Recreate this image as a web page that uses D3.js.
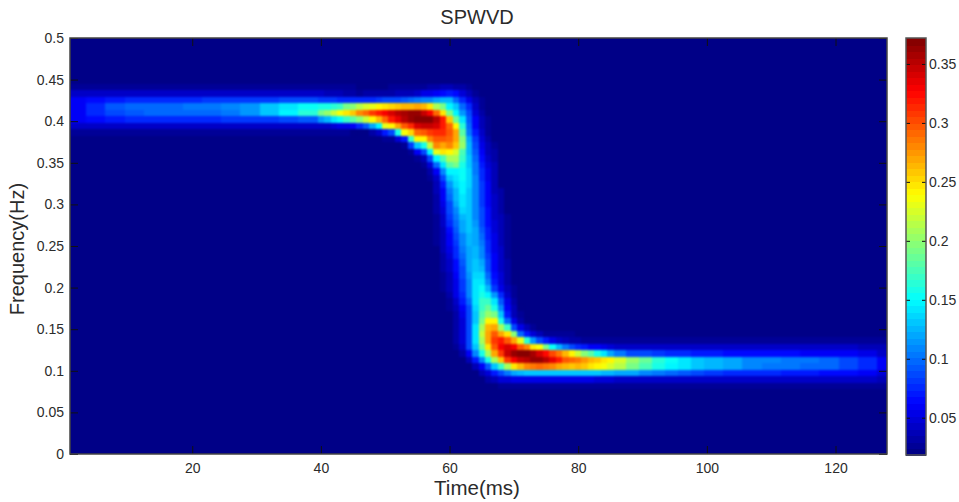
<!DOCTYPE html>
<html>
<head>
<meta charset="utf-8">
<title>SPWVD</title>
<script src="https://cdn.jsdelivr.net/npm/d3@7"></script>
<style>
  html, body { margin: 0; background: #fff; }
  text { font-family: "Liberation Sans", Arial, sans-serif; fill: #2b2b2b; }
</style>
</head>
<body>
<div id="chart"></div>
<script>
// tick labels
const timeTicks = [20, 40, 60, 80, 100, 120];
const freqTicks = [0, 0.05, 0.1, 0.15, 0.2, 0.25, 0.3, 0.35, 0.4, 0.45, 0.5];
const barTicks = [0.05, 0.1, 0.15, 0.2, 0.25, 0.3, 0.35];

// spectrogram, 64 frequency bins over 0-0.5 Hz
const binCount = 64;
const floorValue = 0.0184;
const topValue = 0.372;
// first time sample of each stored column, it lasts until the next one
const colTime = [1, 4, 7, 10, 13, 16, 19, 22, 25, 28, 31, 34, 37, 40, 41, 42, 43, 44, 45, 46, 47, 48, 49, 50, 51, 52, 53, 54, 55, 56, 57, 58, 59, 60, 61, 62, 63, 64, 65, 66, 67, 68, 69, 70, 71, 72, 73, 74, 75, 76, 77, 78, 79, 80, 81, 82, 83, 84, 85, 86, 88, 90, 92, 94, 96, 98, 100, 103, 106, 109, 112, 115, 118, 121, 124, 127];
const colEnd = 129;
// lowest frequency bin stored for each column
const colBin = [49, 49, 49, 49, 49, 49, 49, 49, 49, 49, 49, 49, 49, 49, 49, 49, 49, 49, 49, 50, 50, 49, 49, 48, 48, 48, 47, 46, 45, 44, 42, 32, 25, 22, 16, 15, 14, 13, 12, 11, 11, 10, 10, 10, 10, 10, 10, 10, 10, 10, 10, 10, 10, 10, 10, 10, 10, 10, 10, 10, 10, 10, 10, 10, 10, 10, 10, 10, 10, 10, 10, 10, 10, 10, 10, 10];
// values x 1000, from colBin upward
const colVals = [
  [28,44,58,62,62,58,44,28],
  [26,44,64,78,78,64,44,26],
  [26,44,70,90,92,72,46,26],
  [26,44,74,94,96,76,46,26],
  [26,46,76,96,98,78,46,26],
  [26,46,76,96,100,78,46,26],
  [26,46,76,98,102,78,46,26],
  [26,46,78,100,104,80,46,26],
  [26,46,80,106,108,80,46,26],
  [26,46,82,116,116,82,46,26],
  [26,46,84,134,130,84,46,26],
  [26,46,88,150,144,86,45,26],
  [26,46,94,167,152,86,44,26],
  [25,46,116,190,157,84,42,25],
  [25,46,128,205,162,82,40,25],
  [24,48,140,220,167,80,38,25],
  [24,52,152,235,172,78,36,24],
  [24,56,170,250,190,76,32,24],
  [23,62,182,260,200,76,30,24],
  [78,200,280,215,75,28,23],
  [92,222,290,225,76,30,23],
  [30,120,240,310,232,78,32,23],
  [45,150,262,322,240,80,32,23],
  [25,70,230,290,332,245,85,32,23],
  [28,85,240,318,342,252,88,34,24],
  [50,160,270,338,350,258,90,36,25],
  [25,70,235,295,352,357,262,92,38,25],
  [25,80,170,255,315,362,362,265,98,40,25],
  [25,60,130,240,290,340,370,365,270,104,44,26],
  [24,40,85,160,240,300,345,372,345,262,108,52,28],
  [24,30,50,90,150,220,280,310,345,368,330,245,112,55,30],
  [24,25,26,27,28,30,32,34,36,38,44,60,100,150,230,280,300,315,340,352,290,210,118,62,33],
  [24,26,28,30,32,34,35,36,38,40,43,46,48,52,58,62,72,90,110,140,175,250,270,295,312,318,318,250,190,125,68,35],
  [24,28,32,36,38,40,42,46,50,54,58,62,68,74,80,86,90,98,102,115,130,150,180,210,240,280,290,295,290,260,195,150,125,70,36],
  [24,30,32,32,32,34,40,44,52,54,56,60,64,68,74,78,84,88,94,100,106,112,118,125,128,135,140,150,190,210,225,258,270,268,240,185,150,130,100,65,34],
  [30,45,50,50,50,50,55,60,70,78,80,82,85,90,92,98,102,108,112,118,122,128,135,140,145,148,150,152,155,160,170,175,205,200,180,165,145,115,100,75,50,30],
  [35,60,85,90,90,90,90,90,90,100,110,110,112,115,118,118,120,122,125,128,130,130,132,132,132,132,132,138,138,135,130,130,125,125,120,105,100,95,85,75,55,38,26],
  [40,70,110,130,145,140,140,130,130,135,140,140,140,140,135,132,130,128,126,122,120,118,114,112,110,108,108,108,110,108,105,105,100,95,90,80,70,62,58,50,45,35,28],
  [35,60,110,160,190,210,220,210,190,180,170,170,160,155,145,135,125,118,112,108,102,98,95,90,88,86,84,82,80,80,78,75,72,68,60,55,48,42,38,35,32,28,24],
  [30,50,95,160,210,250,270,270,265,240,205,185,170,150,125,110,98,90,85,80,76,74,72,70,68,66,64,62,60,60,58,56,54,50,44,40,36,32,28,26,24,22],
  [40,70,130,210,270,300,310,300,270,240,190,160,140,115,80,70,64,62,60,58,56,54,52,50,48,46,45,44,42,40,40,38,38,36,34,32,28],
  [24,50,90,170,260,310,330,320,270,210,160,130,110,95,75,56,50,48,46,45,44,42,40,38,37,36,35,34,33,32,30],
  [24,50,105,210,310,345,340,300,250,170,100,70,60,55,45,36,34,32,30,30,28,28,27,26,25,24,24],
  [24,55,120,245,330,365,330,270,200,90,55,38,36,32,28,24,23,22],
  [24,55,125,265,345,370,300,230,100,55,32,24,22],
  [24,55,130,280,355,370,280,165,70,35,22],
  [24,55,130,285,365,360,250,115,48,25],
  [24,55,130,290,365,340,235,90,35],
  [24,55,130,285,355,325,190,70,25],
  [24,55,130,280,335,305,155,55,24],
  [24,55,130,270,320,285,125,44,24],
  [24,55,130,265,300,262,105,36,24],
  [24,55,130,260,290,240,90,32,24],
  [24,55,130,262,285,220,78,30],
  [24,52,130,258,275,200,70,28],
  [24,52,130,250,265,180,62,28],
  [24,50,130,240,260,160,58,27],
  [24,50,128,235,250,140,52,27],
  [24,48,125,225,240,120,50,26],
  [24,46,122,215,228,105,46,26],
  [24,46,118,195,205,90,46,26],
  [24,46,112,175,185,85,46,26],
  [24,46,105,158,165,80,46,26],
  [24,46,98,150,152,76,46,26],
  [24,46,92,140,142,74,46,26],
  [24,46,86,132,134,72,46,26],
  [24,46,82,125,128,70,46,26],
  [24,46,78,118,120,68,46,26],
  [24,46,76,110,112,66,45,26],
  [24,46,74,106,108,66,44,26],
  [24,46,72,104,104,64,44,26],
  [24,46,70,100,102,62,44,26],
  [24,44,68,98,98,60,44,26],
  [24,44,66,90,90,58,42,26],
  [24,42,60,74,74,54,40,25],
  [24,38,50,60,60,46,36,24]
];

const W = 959, H = 502;
const plot = { left: 70, right: 887, top: 38, bottom: 454 };
const bar = { left: 906, right: 926, top: 38, bottom: 455 };

const svg = d3.select("#chart").append("svg")
  .attr("width", W).attr("height", H)
  .style("display", "block");

const x = d3.scaleLinear().domain([1, 128]).range([plot.left, plot.right]);
const y = d3.scaleLinear().domain([0, 0.5]).range([plot.bottom, plot.top]);

// matlab jet, 64 steps
function jet(i, n) {
  const v = (i + 0.5) / n * 4;
  const ch = (c) => Math.round(255 * Math.max(0, Math.min(1, 1.5 - Math.abs(v - c))));
  return d3.rgb(ch(3), ch(2), ch(1)).formatHex();
}
const jetColors = d3.range(64).map((i) => jet(i, 64));
const color = d3.scaleQuantize().domain([floorValue, topValue]).range(jetColors);

const defs = svg.append("defs");
defs.append("clipPath").attr("id", "plotClip").append("rect")
  .attr("x", plot.left).attr("y", plot.top)
  .attr("width", plot.right - plot.left).attr("height", plot.bottom - plot.top);
// the reference is a slightly soft screenshot
defs.append("filter").attr("id", "soft")
  .attr("color-interpolation-filters", "sRGB")
  .append("feGaussianBlur").attr("stdDeviation", 0.8);

const heat = svg.append("g").attr("clip-path", "url(#plotClip)");
heat.append("rect")
  .attr("x", plot.left).attr("y", plot.top)
  .attr("width", plot.right - plot.left).attr("height", plot.bottom - plot.top)
  .attr("fill", color(floorValue));

const df = 0.5 / binCount;
const cells = [];
colVals.forEach((vals, c) => {
  const t0 = colTime[c];
  const t1 = c + 1 < colTime.length ? colTime[c + 1] : colEnd;
  vals.forEach((v, k) => cells.push({ t0, t1, bin: colBin[c] + k, value: v / 1000 }));
});

heat.append("g")
  .attr("filter", "url(#soft)")
  .attr("shape-rendering", "crispEdges")
  .selectAll("rect")
  .data(cells)
  .enter()
  .append("rect")
  .attr("x", (d) => x(d.t0 - 0.5))
  .attr("width", (d) => x(d.t1 - 0.5) - x(d.t0 - 0.5))
  .attr("y", (d) => y((d.bin + 1) * df))
  .attr("height", (d) => y(d.bin * df) - y((d.bin + 1) * df))
  .attr("fill", (d) => color(d.value));

// axes, matlab style with ticks pointing in on all four sides
function styleAxis(g) {
  g.select(".domain").remove();
  g.selectAll(".tick line").attr("stroke", "#111").attr("stroke-width", 1);
  g.selectAll(".tick text").attr("font-size", 14).attr("fill", "#2b2b2b");
}
const fmt = (d) => String(d);

svg.append("g")
  .attr("transform", "translate(0," + plot.bottom + ")")
  .call(d3.axisBottom(x).tickValues(timeTicks).tickFormat(fmt).tickSize(-8).tickPadding(9))
  .call(styleAxis);
svg.append("g")
  .attr("transform", "translate(0," + plot.top + ")")
  .call(d3.axisTop(x).tickValues(timeTicks).tickFormat("").tickSize(-8))
  .call(styleAxis);
svg.append("g")
  .attr("transform", "translate(" + plot.left + ",0)")
  .call(d3.axisLeft(y).tickValues(freqTicks).tickFormat(fmt).tickSize(-8).tickPadding(6))
  .call(styleAxis);
svg.append("g")
  .attr("transform", "translate(" + plot.right + ",0)")
  .call(d3.axisRight(y).tickValues(freqTicks).tickFormat("").tickSize(-8))
  .call(styleAxis);

svg.append("rect")
  .attr("x", plot.left).attr("y", plot.top)
  .attr("width", plot.right - plot.left).attr("height", plot.bottom - plot.top)
  .attr("fill", "none").attr("stroke", "#444").attr("stroke-width", 1.5);

// colorbar
const barY = d3.scaleLinear().domain([floorValue, topValue]).range([bar.bottom, bar.top]);
const step = (topValue - floorValue) / 64;
svg.append("g").attr("shape-rendering", "crispEdges")
  .selectAll("rect")
  .data(jetColors)
  .enter()
  .append("rect")
  .attr("x", bar.left)
  .attr("width", bar.right - bar.left)
  .attr("y", (d, i) => barY(floorValue + (i + 1) * step))
  .attr("height", (d, i) => barY(floorValue + i * step) - barY(floorValue + (i + 1) * step) + 1)
  .attr("fill", (d) => d);

svg.append("g")
  .attr("transform", "translate(" + bar.right + ",0)")
  .call(d3.axisRight(barY).tickValues(barTicks).tickFormat(fmt).tickSize(0).tickPadding(3))
  .call(styleAxis);
svg.append("g")
  .attr("transform", "translate(" + bar.left + ",0)")
  .call(d3.axisRight(barY).tickValues(barTicks).tickFormat("").tickSize(4))
  .call(styleAxis);
svg.append("g")
  .attr("transform", "translate(" + bar.right + ",0)")
  .call(d3.axisLeft(barY).tickValues(barTicks).tickFormat("").tickSize(4))
  .call(styleAxis);
svg.append("rect")
  .attr("x", bar.left).attr("y", bar.top)
  .attr("width", bar.right - bar.left).attr("height", bar.bottom - bar.top)
  .attr("fill", "none").attr("stroke", "#555").attr("stroke-width", 1.5);

// title and labels
svg.append("text")
  .attr("x", 477).attr("y", 24)
  .attr("text-anchor", "middle").attr("font-size", 20)
  .text("SPWVD");
svg.append("text")
  .attr("x", 477).attr("y", 495)
  .attr("text-anchor", "middle").attr("font-size", 20.5)
  .text("Time(ms)");
svg.append("text")
  .attr("transform", "translate(24,249) rotate(-90)")
  .attr("text-anchor", "middle").attr("font-size", 20)
  .text("Frequency(Hz)");
</script>
</body>
</html>
